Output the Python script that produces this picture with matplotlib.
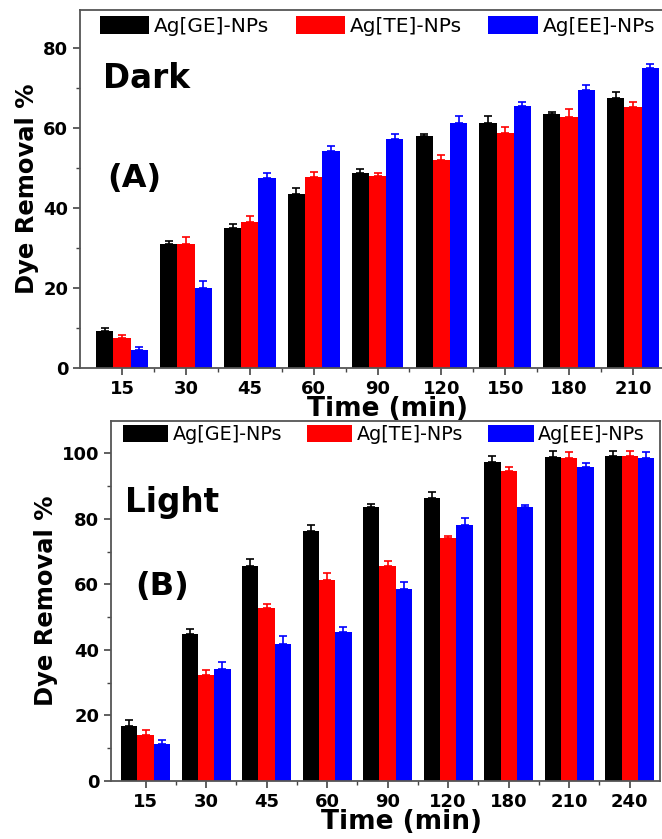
import matplotlib
matplotlib.use("Agg")
import matplotlib.pyplot as plt
from matplotlib.ticker import MultipleLocator, FixedLocator
import numpy as np

plt.rcParams['font.family'] = ['DejaVu Sans']

series = ['Ag[GE]-NPs', 'Ag[TE]-NPs', 'Ag[EE]-NPs']
colors = ['black', '#ff0000', '#0000ff']

# panel A - dark
dark_times = ['15', '30', '45', '60', '90', '120', '150', '180', '210']
dark_ge = [9.2, 30.9, 35.0, 43.4, 48.7, 58.1, 61.3, 63.4, 67.6]
dark_te = [7.4, 30.9, 36.5, 47.7, 47.9, 51.9, 58.8, 62.7, 65.2]
dark_ee = [4.6, 20.0, 47.4, 54.3, 57.2, 61.3, 65.4, 69.6, 75.1]
dark_ge_err = [0.8, 0.8, 0.9, 1.6, 1.1, 0.4, 1.6, 0.6, 1.4]
dark_te_err = [0.8, 1.9, 1.5, 1.3, 0.9, 1.4, 1.4, 2.0, 1.3]
dark_ee_err = [0.6, 1.7, 1.3, 1.3, 1.2, 1.6, 1.1, 1.2, 1.0]

# panel B - light
light_times = ['15', '30', '45', '60', '90', '120', '180', '210', '240']
light_ge = [16.9, 44.8, 65.6, 76.4, 83.5, 86.4, 97.3, 98.9, 99.2]
light_te = [14.1, 32.3, 52.9, 61.2, 65.7, 74.1, 94.5, 98.6, 99.0]
light_ee = [11.4, 34.3, 41.9, 45.3, 58.6, 78.2, 83.5, 95.9, 98.6]
light_ge_err = [1.7, 1.6, 2.1, 1.8, 1.1, 1.6, 1.7, 1.7, 1.4]
light_te_err = [1.4, 1.5, 1.0, 2.1, 1.3, 0.5, 1.3, 1.7, 1.6]
light_ee_err = [1.1, 2.0, 2.3, 1.7, 2.2, 2.0, 0.8, 1.2, 1.7]


def panel(ax, times, vals, errs, ylim, xlim, label, letter, label_pos, letter_pos,
          leg_anchor, leg_size, handle_len, colspace, xlabel_x):
    x = np.arange(len(times))
    w = 0.27
    for i in range(3):
        ax.bar(x + (i - 1) * w, vals[i], w, color=colors[i], label=series[i],
               yerr=[np.zeros(len(times)), errs[i]], ecolor=colors[i],
               error_kw=dict(capsize=3, elinewidth=1.2, capthick=1.2))
    ax.set_xticks(x)
    ax.set_xticklabels(times)
    ax.xaxis.set_minor_locator(FixedLocator(x[:-1] + 0.5))
    ax.yaxis.set_major_locator(MultipleLocator(20))
    ax.yaxis.set_minor_locator(MultipleLocator(10))
    ax.set_ylim(*ylim)
    ax.set_xlim(*xlim)
    ax.tick_params(which='major', direction='out', length=5, width=1.2,
                   labelsize=13, color='#444444')
    ax.tick_params(which='minor', direction='out', length=3, width=1.0, color='#444444')
    for t in ax.get_xticklabels() + ax.get_yticklabels():
        t.set_fontweight('bold')
    for s in ax.spines.values():
        s.set_color('#555555')
        s.set_linewidth(1.3)
    ax.set_ylabel('Dye Removal %', fontsize=17.5, fontweight='bold', labelpad=3)
    ax.set_xlabel('Time (min)', fontsize=19, fontweight='bold', labelpad=-1)
    ax.xaxis.label.set_x(xlabel_x)
    ax.text(label_pos[0], label_pos[1], label, transform=ax.transAxes,
            fontsize=23.5, fontweight='bold', va='center')
    ax.text(letter_pos[0], letter_pos[1], letter, transform=ax.transAxes,
            fontsize=23, fontweight='bold', va='center')
    ax.legend(ncol=3, loc='center left', bbox_to_anchor=leg_anchor, frameon=False,
              fontsize=leg_size, handlelength=handle_len, handleheight=1.0,
              handletextpad=0.25, columnspacing=colspace, borderaxespad=0, borderpad=0)


fig = plt.figure(figsize=(6.62, 8.39), dpi=100)

ax1 = fig.add_axes([0.1208, 0.5614, 0.8792, 0.4267])
panel(ax1, dark_times, [dark_ge, dark_te, dark_ee],
      [dark_ge_err, dark_te_err, dark_ee_err], (0, 89.5), (-0.66, 8.455),
      'Dark', '(A)', (0.04, 0.81), (0.047, 0.53), (0.034, 0.955), 14.5, 2.45, 1.3, 0.529)
ax1.spines['right'].set_visible(False)

ax2 = fig.add_axes([0.1677, 0.0691, 0.8293, 0.4291])
panel(ax2, light_times, [light_ge, light_te, light_ee],
      [light_ge_err, light_te_err, light_ee_err], (0, 109.8), (-0.57, 8.5),
      'Light', '(B)', (0.025, 0.775), (0.045, 0.54), (0.022, 0.963), 13.8, 2.35, 1.3, 0.53)

fig.savefig('out.png', dpi=100)
